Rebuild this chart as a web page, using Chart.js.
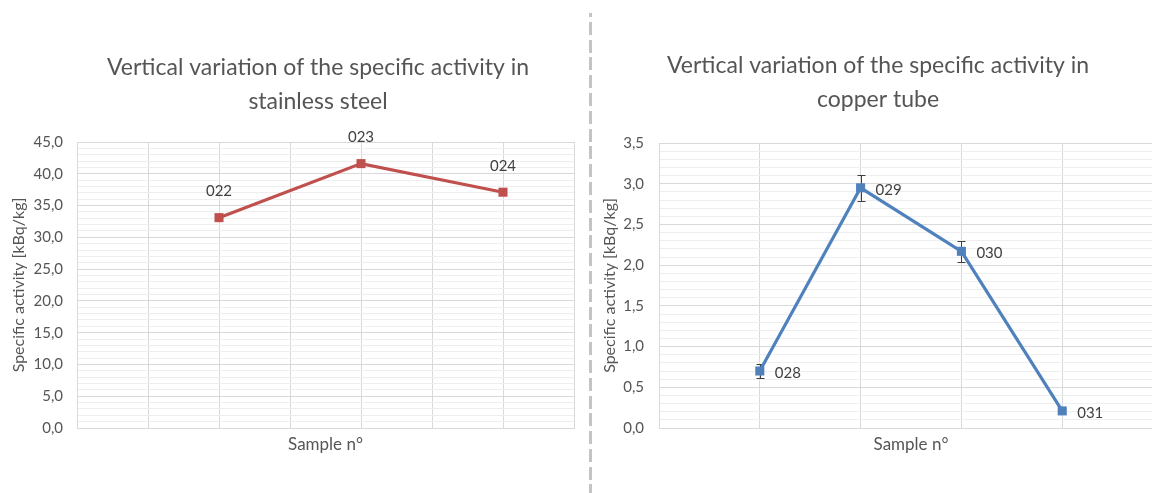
<!DOCTYPE html>
<html>
<head>
<meta charset="utf-8">
<script src="https://cdn.jsdelivr.net/npm/chart.js@4.4.1/dist/chart.umd.min.js"></script>
<style>
  html, body { margin: 0; padding: 0; background: #ffffff; overflow: hidden; }
  #wrap { position: relative; width: 1152px; height: 493px; overflow: hidden; background: #fff; }
  #steel { position: absolute; left: 0; top: 0; }
  #copper { position: absolute; left: 595px; top: 0; }
  #divider {
    position: absolute; left: 589px; top: 13px; width: 3px; height: 480px;
    background-image: repeating-linear-gradient(to bottom, #c4c4c4 0 13px, transparent 13px 17.8px);
    background-position: 0 -9px;
  }
</style>
</head>
<body>
<div id="wrap">
  <canvas id="steel" width="585" height="493"></canvas>
  <div id="divider"></div>
  <canvas id="copper" width="575" height="493"></canvas>
</div>
<script>
// Stainless steel samples (sample position, activity in kBq/kg)
const steelSamples = ['022', '023', '024'];
const steelPositions = [2, 4, 6];
const steelActivity = [33.1, 41.6, 37.1];

// Copper tube samples, with uncertainty
const copperSamples = ['028', '029', '030', '031'];
const copperPositions = [1, 2, 3, 4];
const copperActivity = [0.70, 2.95, 2.17, 0.21];
const copperError = [0.08, 0.16, 0.13, 0.02];

const FONT = 'Lato, "Open Sans", sans-serif';
const TEXT = '#555555';
const GRID_MAJOR = '#d9d9d9';
const GRID_MINOR = '#eeeeee';

// Two-line heading drawn centred at a given x
const headingPlugin = {
  id: 'heading',
  afterDraw(chart, args, opts) {
    const ctx = chart.ctx;
    ctx.save();
    ctx.font = `${opts.size}px ${FONT}`;
    ctx.fillStyle = TEXT;
    ctx.textAlign = 'center';
    ctx.textBaseline = 'middle';
    opts.lines.forEach((t, i) => ctx.fillText(t, opts.x, opts.y + i * opts.lineGap));
    ctx.restore();
  }
};

// Sample-number labels next to each point
const pointLabelPlugin = {
  id: 'pointLabels',
  afterDatasetsDraw(chart, args, opts) {
    const ctx = chart.ctx;
    const meta = chart.getDatasetMeta(0);
    ctx.save();
    ctx.font = `${opts.size}px ${FONT}`;
    ctx.fillStyle = '#404040';
    ctx.textAlign = opts.align;
    ctx.textBaseline = 'middle';
    meta.data.forEach((pt, i) => {
      ctx.fillText(opts.labels[i], pt.x + opts.dx, pt.y + opts.dy);
    });
    ctx.restore();
  }
};

// Vertical error bars with caps, drawn beneath the line and markers
const errorBarPlugin = {
  id: 'errorBars',
  beforeDatasetsDraw(chart, args, opts) {
    if (!opts.errors) return;
    const ctx = chart.ctx;
    const y = chart.scales.y;
    const meta = chart.getDatasetMeta(0);
    const data = chart.data.datasets[0].data;
    ctx.save();
    ctx.strokeStyle = '#404040';
    ctx.lineWidth = 1;
    meta.data.forEach((pt, i) => {
      const e = opts.errors[i];
      const top = Math.round(y.getPixelForValue(data[i].y + e)) + 0.5;
      const bot = Math.round(y.getPixelForValue(data[i].y - e)) + 0.5;
      const x = Math.round(pt.x) + 0.5;
      ctx.beginPath();
      ctx.moveTo(x, top); ctx.lineTo(x, bot);
      ctx.moveTo(x - 4, top); ctx.lineTo(x + 4, top);
      ctx.moveTo(x - 4, bot); ctx.lineTo(x + 4, bot);
      ctx.stroke();
    });
    ctx.restore();
  }
};

function isMajor(v, step) {
  const r = v / step;
  return Math.abs(r - Math.round(r)) < 1e-6;
}

function makeChart(el, cfg) {
  const points = cfg.positions.map((x, i) => ({ x, y: cfg.values[i] }));
  return new Chart(document.getElementById(el), {
    type: 'line',
    data: {
      datasets: [{
        data: points,
        borderColor: cfg.color,
        backgroundColor: cfg.color,
        borderWidth: 3.2,
        pointStyle: 'rect',
        pointRadius: 6.4,
        pointBorderWidth: 0,
        tension: 0
      }]
    },
    plugins: [headingPlugin, pointLabelPlugin, errorBarPlugin],
    options: {
      responsive: false,
      animation: false,
      layout: { padding: { top: cfg.top, right: cfg.padRight, left: 0, bottom: 0 } },
      plugins: {
        legend: { display: false },
        tooltip: { enabled: false },
        title: { display: false },
        heading: { lines: cfg.heading, x: cfg.headX, y: cfg.headY, lineGap: 34, size: 23 },
        pointLabels: { labels: cfg.labels, dx: cfg.labelDx, dy: cfg.labelDy, align: cfg.labelAlign, size: 15 },
        errorBars: { errors: cfg.errors }
      },
      scales: {
        x: {
          type: 'linear',
          min: 0,
          max: cfg.xMax,
          border: { display: true, color: GRID_MAJOR },
          grid: { color: GRID_MAJOR, drawTicks: false },
          ticks: { display: false, stepSize: 1 },
          title: {
            display: true, text: 'Sample n°', color: TEXT,
            font: { family: FONT, size: 17 }, padding: { top: 0, bottom: 38 }
          },
          afterFit(scale) { scale.height = 65; }
        },
        y: {
          min: 0,
          max: cfg.yMax,
          border: { display: true, color: GRID_MAJOR },
          grid: {
            drawTicks: false,
            color: (c) => isMajor(c.tick.value, cfg.yMajor) ? GRID_MAJOR : GRID_MINOR
          },
          ticks: {
            stepSize: cfg.yMinor,
            autoSkip: false,
            padding: cfg.tickPad,
            color: TEXT,
            font: { family: FONT, size: 15 },
            callback: (v) => isMajor(v, cfg.yMajor) ? v.toFixed(1).replace('.', ',') : ''
          },
          title: {
            display: true, text: 'Specific activity [kBq/kg]', color: TEXT,
            font: { family: FONT, size: 16 }, padding: { top: cfg.yTitlePad, bottom: 0 }
          },
          afterFit(scale) { scale.width = cfg.yWidth; }
        }
      }
    }
  });
}

makeChart('steel', {
  positions: steelPositions, values: steelActivity, labels: steelSamples,
  color: '#c0504d', xMax: 7, yMax: 45, yMajor: 5, yMinor: 1,
  top: 142, padRight: 11, yWidth: 77, tickPad: 14, yTitlePad: 9,
  heading: ['Vertical variation of the specific activity in', 'stainless steel'],
  headX: 318, headY: 68,
  labelDx: 0, labelDy: -26, labelAlign: 'center'
});

makeChart('copper', {
  positions: copperPositions, values: copperActivity, labels: copperSamples, errors: copperError,
  color: '#4f81bd', xMax: 5, yMax: 3.5, yMajor: 0.5, yMinor: 0.1,
  top: 143, padRight: 7, yWidth: 64, tickPad: 15, yTitlePad: 5,
  heading: ['Vertical variation of the specific activity in', 'copper tube'],
  headX: 283, headY: 66,
  labelDx: 15, labelDy: 2, labelAlign: 'left'
});
</script>
</body>
</html>
